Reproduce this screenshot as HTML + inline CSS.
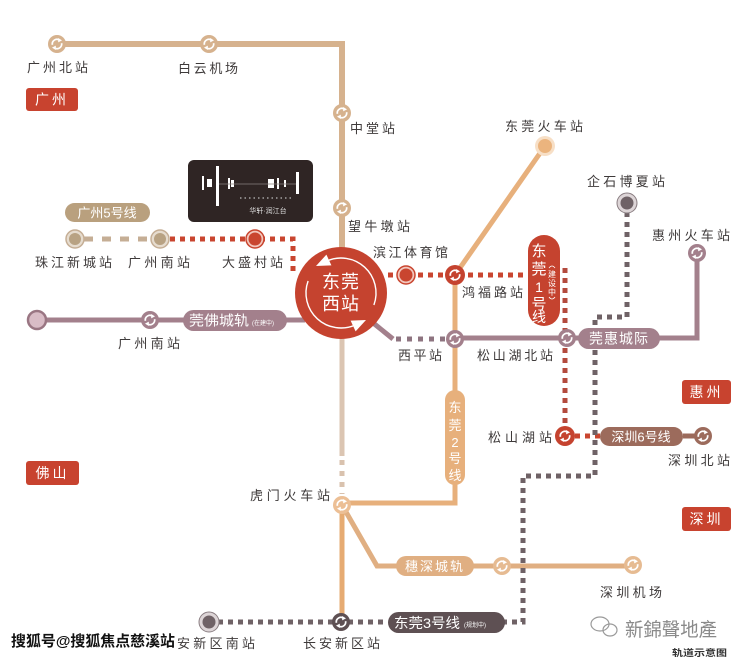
<!DOCTYPE html>
<html><head><meta charset="utf-8"><style>
html,body{margin:0;padding:0;background:#fff;}
svg{display:block;}
text{font-family:"Liberation Sans","Noto Sans CJK SC",sans-serif;}
.l{font-size:13px;fill:#3e3a3a;}
.w{fill:#fff;}
</style></head><body>
<svg width="740" height="658" viewBox="0 0 740 658" xmlns="http://www.w3.org/2000/svg">
<defs>
<g id="ar">
<path d="M-4.6,0.8 A4.6,4.6 0 0 1 2.6,-3.8" stroke="#fff" stroke-width="1.7" fill="none"/>
<path d="M4.6,-0.8 A4.6,4.6 0 0 1 -2.6,3.8" stroke="#fff" stroke-width="1.7" fill="none"/>
<polygon points="1.2,-6 5,-3.6 1.2,-1.6" fill="#fff"/>
<polygon points="-1.2,6 -5,3.6 -1.2,1.6" fill="#fff"/>
</g>
</defs>

<!-- top tan line -->
<path d="M57,44 H342 V252" stroke="#d6b28e" stroke-width="6" fill="none"/>
<!-- below big circle to humen -->
<path d="M342,330 V456" stroke="#dbc5b2" stroke-width="5" fill="none"/>
<path d="M342,460 V494" stroke="#d9c2ae" stroke-width="5" stroke-dasharray="5,6" fill="none"/>
<!-- humen to chang'an -->
<path d="M342,505 V622" stroke="#e6ab72" stroke-width="5" fill="none"/>

<!-- Dongguan 2 line -->
<path d="M545,146 L455,275 V503 H342" stroke="#e7b07c" stroke-width="5" fill="none"/>
<!-- Suishen -->
<path d="M342,505 L377,566 H633" stroke="#e0af82" stroke-width="5" fill="none"/>

<!-- GZ line 5 -->
<path d="M84,239 H152" stroke="#c5ae95" stroke-width="5" stroke-dasharray="9,9" fill="none"/>
<path d="M170,239 H293 V276" stroke="#c9452f" stroke-width="5" stroke-dasharray="5,5" fill="none"/>

<!-- Mauve Guanfo -->
<path d="M37,320 H305" stroke="#a3808c" stroke-width="5" fill="none"/>
<path d="M372,322 L393,339" stroke="#a3808c" stroke-width="5" fill="none"/>
<path d="M396,339 H448" stroke="#8e7480" stroke-width="5" stroke-dasharray="5,6" fill="none"/>
<path d="M455,338 H697 V253" stroke="#a3808c" stroke-width="5" fill="none"/>

<!-- Red line 1 -->
<path d="M388,275 H528" stroke="#c9452f" stroke-width="5" stroke-dasharray="5,5" fill="none"/>
<path d="M565,268 V430" stroke="#b34a3e" stroke-width="5" stroke-dasharray="5,5" fill="none"/>
<path d="M575,436 H600" stroke="#c9452f" stroke-width="5" stroke-dasharray="5,5" fill="none"/>
<!-- Shenzhen 6 -->
<path d="M683,436 H703" stroke="#9c6b5c" stroke-width="5" fill="none"/>

<!-- Dark dotted line 3 -->
<path d="M627,212 V317 H595 V476 H523 V622 H503" stroke="#6f6266" stroke-width="5" stroke-dasharray="5,5" fill="none"/>
<path d="M218,622 H388" stroke="#6f6266" stroke-width="5" stroke-dasharray="5,5" fill="none"/>

<!-- Big circle -->
<circle cx="341" cy="293" r="46" fill="#c5432f"/>
<path d="M326.2,261.3 A35,35 0 0 1 373.9,305" stroke="#fff" stroke-width="1.4" fill="none"/>
<path d="M355.8,324.7 A35,35 0 0 1 308.1,281" stroke="#fff" stroke-width="1.4" fill="none"/>
<polygon points="316,266 331.4,265.4 326.4,254.6" fill="#fff"/>
<polygon points="366,320 355.6,331.4 350.6,320.6" fill="#fff"/>
<text x="341" y="288" font-size="18" class="w" text-anchor="middle" letter-spacing="1">东莞</text>
<text x="341" y="310" font-size="18" class="w" text-anchor="middle" letter-spacing="1">西站</text>

<!-- Pills -->
<rect x="65" y="203" width="85" height="19" rx="9.5" fill="#b9a07e"/>
<text x="107" y="217.5" font-size="13" class="w" text-anchor="middle">广州5号线</text>

<rect x="183" y="310" width="104" height="21" rx="10.5" fill="#a3808c"/>
<text x="189" y="325.5" font-size="14" class="w" textLength="60" lengthAdjust="spacingAndGlyphs">莞佛城轨</text>
<text x="252" y="325" font-size="6" class="w">(在建中)</text>

<rect x="578" y="328" width="82" height="21" rx="10.5" fill="#a3808c"/>
<text x="619" y="343.5" font-size="14" class="w" text-anchor="middle" letter-spacing="1">莞惠城际</text>

<rect x="445" y="390" width="20" height="95" rx="10" fill="#e7b07c"/>
<text x="455" y="412" font-size="13" class="w" text-anchor="middle">东</text>
<text x="455" y="430" font-size="13" class="w" text-anchor="middle">莞</text>
<text x="455" y="447" font-size="13" class="w" text-anchor="middle">2</text>
<text x="455" y="463" font-size="13" class="w" text-anchor="middle">号</text>
<text x="455" y="480" font-size="13" class="w" text-anchor="middle">线</text>

<rect x="528" y="235" width="32" height="91" rx="16" fill="#c5432f"/>
<text x="539" y="256" font-size="15" class="w" text-anchor="middle">东</text>
<text x="539" y="274" font-size="15" class="w" text-anchor="middle">莞</text>
<text x="539" y="292" font-size="14" class="w" text-anchor="middle">1</text>
<text x="539" y="309" font-size="15" class="w" text-anchor="middle">号</text>
<text x="539" y="322" font-size="14" class="w" text-anchor="middle">线</text>
<path d="M549,268 Q552,264 555,268" stroke="#fff" stroke-width="0.8" fill="none"/>
<text x="552" y="277" font-size="8" class="w" text-anchor="middle">建</text>
<text x="552" y="286" font-size="8" class="w" text-anchor="middle">设</text>
<text x="552" y="295" font-size="8" class="w" text-anchor="middle">中</text>
<path d="M549,297 Q552,301 555,297" stroke="#fff" stroke-width="0.8" fill="none"/>

<rect x="600" y="427" width="83" height="19" rx="9.5" fill="#9c6b5c"/>
<text x="641" y="441.5" font-size="13" class="w" text-anchor="middle">深圳6号线</text>

<rect x="396" y="556" width="78" height="20" rx="10" fill="#e0af82"/>
<text x="435" y="571" font-size="13" class="w" text-anchor="middle" letter-spacing="2">穗深城轨</text>

<rect x="388" y="612" width="117" height="21" rx="10.5" fill="#5e5053"/>
<text x="394" y="628" font-size="14" class="w" textLength="66" lengthAdjust="spacingAndGlyphs">东莞3号线</text>
<text x="464" y="627" font-size="6" class="w">(规划中)</text>

<!-- Stations: interchange -->
<g fill="#d6b28e">
<circle cx="57" cy="44" r="9"/><circle cx="209" cy="44" r="9"/>
<circle cx="342" cy="113" r="9"/><circle cx="342" cy="208" r="9"/>
</g>
<g fill="#a3808c">
<circle cx="150" cy="320" r="9"/><circle cx="697" cy="253" r="9"/>
<circle cx="455" cy="339" r="9"/><circle cx="567" cy="338" r="9"/>
</g>
<circle cx="455" cy="275" r="10" fill="#c5432f"/>
<circle cx="565" cy="436" r="10" fill="#c5432f"/>
<circle cx="703" cy="436" r="9" fill="#9c6b5c"/>
<circle cx="342" cy="505" r="9" fill="#ecbf95"/>
<circle cx="502" cy="566" r="9" fill="#e6bb92"/>
<circle cx="633" cy="565" r="9" fill="#e6bb92"/>
<circle cx="341" cy="622" r="9" fill="#5e5053"/>
<use href="#ar" x="57" y="44"/><use href="#ar" x="209" y="44"/>
<use href="#ar" x="342" y="113"/><use href="#ar" x="342" y="208"/>
<use href="#ar" x="150" y="320"/><use href="#ar" x="697" y="253"/>
<use href="#ar" x="455" y="339"/><use href="#ar" x="567" y="338"/>
<use href="#ar" x="455" y="275"/><use href="#ar" x="565" y="436"/>
<use href="#ar" x="703" y="436"/><use href="#ar" x="342" y="505"/>
<use href="#ar" x="502" y="566"/><use href="#ar" x="633" y="565"/>
<use href="#ar" x="341" y="622"/>

<!-- Stations: terminal -->
<circle cx="75" cy="239" r="9" fill="#e6dccf" stroke="#c5ae95" stroke-width="1.5"/><circle cx="75" cy="239" r="6" fill="#b8a283"/>
<circle cx="160" cy="239" r="9" fill="#e6dccf" stroke="#c5ae95" stroke-width="1.5"/><circle cx="160" cy="239" r="6" fill="#b8a283"/>
<circle cx="255" cy="239" r="9" fill="#f2c7bd" stroke="#c9452f" stroke-width="1.5"/><circle cx="255" cy="239" r="6.5" fill="#c9452f"/>
<circle cx="406" cy="275" r="9" fill="#f2c7bd" stroke="#c9452f" stroke-width="1.5"/><circle cx="406" cy="275" r="6.5" fill="#c9452f"/>
<circle cx="37" cy="320" r="9" fill="#d9bcc6" stroke="#9a7683" stroke-width="2.5"/>
<circle cx="545" cy="146" r="10" fill="#f7dfc6"/><circle cx="545" cy="146" r="7" fill="#ebb47e"/>
<circle cx="627" cy="203" r="10" fill="#ddd5d7" stroke="#8a7e82" stroke-width="1"/><circle cx="627" cy="203" r="6.5" fill="#6f6266"/>
<circle cx="209" cy="622" r="10" fill="#ddd5d7" stroke="#8a7e82" stroke-width="1"/><circle cx="209" cy="622" r="6.5" fill="#6f6266"/>

<!-- Region boxes -->
<rect x="26" y="88" width="52" height="23" rx="3" fill="#c8432f"/>
<text x="52" y="104.5" font-size="14" class="w" text-anchor="middle" letter-spacing="3">广州</text>
<rect x="26" y="461" width="53" height="24" rx="3" fill="#c8432f"/>
<text x="52.5" y="478" font-size="14" class="w" text-anchor="middle" letter-spacing="3">佛山</text>
<rect x="682" y="380" width="49" height="24" rx="3" fill="#c8432f"/>
<text x="706.5" y="397" font-size="14" class="w" text-anchor="middle" letter-spacing="3">惠州</text>
<rect x="682" y="507" width="49" height="24" rx="3" fill="#c8432f"/>
<text x="706.5" y="524" font-size="14" class="w" text-anchor="middle" letter-spacing="3">深圳</text>

<!-- Logo box -->
<rect x="188" y="160" width="125" height="62" rx="6" fill="#2f2524"/>
<g fill="#fff">
<rect x="202" y="176" width="2" height="14"/>
<rect x="207" y="179" width="5" height="8"/>
<rect x="216" y="166" width="3" height="40"/>
<rect x="228" y="178" width="2" height="11"/>
<rect x="231" y="180" width="3" height="7"/>
<rect x="268" y="179" width="6" height="9"/>
<rect x="277" y="178" width="2" height="11"/>
<rect x="284" y="180" width="2" height="7"/>
<rect x="296" y="172" width="3" height="22"/>
</g>
<path d="M219,184 H296" stroke="#8a807e" stroke-width="0.8"/>
<path d="M240,198 H292" stroke="#bbb" stroke-width="1.2" stroke-dasharray="1.5,3"/>
<text x="268" y="213" font-size="7" fill="#ddd" text-anchor="middle">华轩·润江台</text>

<!-- Labels -->
<g class="l">
<text x="27" y="72" textLength="61" lengthAdjust="spacing">广州北站</text>
<text x="178" y="73" textLength="60" lengthAdjust="spacing">白云机场</text>
<text x="350" y="133" textLength="45" lengthAdjust="spacing">中堂站</text>
<text x="348" y="231" textLength="62" lengthAdjust="spacing">望牛墩站</text>
<text x="505" y="131" textLength="78" lengthAdjust="spacing">东莞火车站</text>
<text x="587" y="186" textLength="78" lengthAdjust="spacing">企石博夏站</text>
<text x="652" y="240" textLength="78" lengthAdjust="spacing">惠州火车站</text>
<text x="373" y="257" textLength="75" lengthAdjust="spacing">滨江体育馆</text>
<text x="35" y="267" textLength="77" lengthAdjust="spacing">珠江新城站</text>
<text x="128" y="267" textLength="62" lengthAdjust="spacing">广州南站</text>
<text x="222" y="267" textLength="61" lengthAdjust="spacing">大盛村站</text>
<text x="462" y="297" textLength="61" lengthAdjust="spacing">鸿福路站</text>
<text x="118" y="348" textLength="62" lengthAdjust="spacing">广州南站</text>
<text x="398" y="360" textLength="44" lengthAdjust="spacing">西平站</text>
<text x="477" y="360" textLength="76" lengthAdjust="spacing">松山湖北站</text>
<text x="488" y="442" textLength="64" lengthAdjust="spacing">松山湖站</text>
<text x="668" y="465" textLength="62" lengthAdjust="spacing">深圳北站</text>
<text x="250" y="500" textLength="80" lengthAdjust="spacing">虎门火车站</text>
<text x="600" y="597" textLength="62" lengthAdjust="spacing">深圳机场</text>
<text x="303" y="648" textLength="77" lengthAdjust="spacing">长安新区站</text>
<text x="177" y="648" textLength="78" lengthAdjust="spacing">安新区南站</text>
</g>

<!-- watermark -->
<text x="11" y="646" font-size="15" font-weight="bold" fill="#111" stroke="#fff" stroke-width="3" paint-order="stroke" textLength="164" lengthAdjust="spacingAndGlyphs">搜狐号@搜狐焦点慈溪站</text>

<!-- bottom right -->
<g fill="none" stroke="#9a9a9a" stroke-width="1.2">
<ellipse cx="600" cy="624" rx="9" ry="7"/>
<ellipse cx="610" cy="630" rx="7" ry="6"/>
</g>
<text x="625" y="636" font-size="19" fill="#8a8a8a" textLength="92" lengthAdjust="spacingAndGlyphs">新錦聲地產</text>
<text x="672" y="656" font-size="9" font-weight="bold" fill="#333" textLength="55" lengthAdjust="spacingAndGlyphs">轨道示意图</text>
</svg>
</body></html>
